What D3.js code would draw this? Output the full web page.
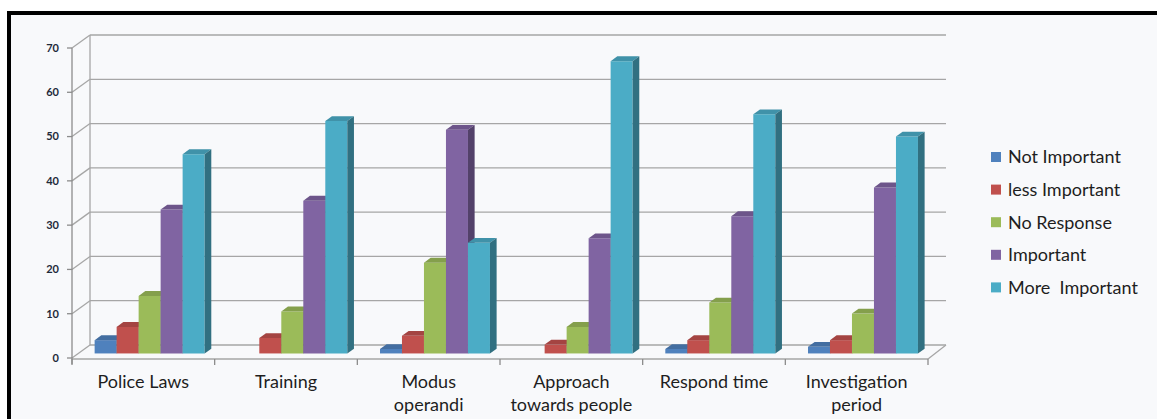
<!DOCTYPE html>
<html>
<head>
<meta charset="utf-8">
<script src="https://cdn.jsdelivr.net/npm/d3@7"></script>
<style>
  html, body { margin: 0; padding: 0; background: #ffffff; }
  svg { display: block; }
  text { font-family: Lato, "Open Sans", sans-serif; }
</style>
</head>
<body>
<svg id="chart" width="1157" height="419"></svg>
<script>
// Survey responses (percent) per policing aspect
const categories = [
  ["Police Laws"],
  ["Training"],
  ["Modus", "operandi"],
  ["Approach", "towards people"],
  ["Respond time"],
  ["Investigation", "period"]
];
const seriesNames = ["Not Important", "less Important", "No Response", "Important", "More  Important"];
const notImportant  = [3, 0, 1, 0, 1, 1.5];
const lessImportant = [6, 3.5, 4, 2, 3, 3];
const noResponse    = [13, 9.5, 20.5, 6, 11.5, 9];
const important     = [32.5, 34.5, 50.5, 26, 31, 37.5];
const moreImportant = [45, 52.5, 25, 66, 54, 49];
const yTicks = [0, 10, 20, 30, 40, 50, 60, 70];

const seriesValues = [notImportant, lessImportant, noResponse, important, moreImportant];
const colors = ["#4f81bd", "#c0504d", "#9bbb59", "#8064a2", "#4bacc6"];

const svg = d3.select("#chart");

// Outer frame
svg.append("rect")
  .attr("x", 9).attr("y", 13)
  .attr("width", 1170).attr("height", 430)
  .attr("fill", "#f8f9fb")
  .attr("stroke", "#000").attr("stroke-width", 4);

// Plot geometry (front plane) and depth vector of the 3D box
const left = 72, right = 928;
const DX = 18, DY = -13;
const y = d3.scaleLinear().domain([0, 70]).range([358, 48]);
const catKeys = categories.map((c, i) => i);
const x0 = d3.scaleBand().domain(catKeys).range([left, right])
  .paddingInner(0.229).paddingOuter(0.1145);
const x1 = d3.scaleBand().domain(d3.range(seriesNames.length)).range([0, x0.bandwidth()]);

const depth0 = 0.35, depth1 = 0.72;
const proj = (px, py, t) => [px + t * DX, py + t * DY];

const grid = svg.append("g").attr("stroke", "#a6a6a6").attr("stroke-width", 1.3).attr("fill", "none");

// Back wall gridlines and left wall diagonals
yTicks.forEach(v => {
  const [bx, by] = proj(left, y(v), 1);
  grid.append("line").attr("x1", bx).attr("y1", by).attr("x2", right + DX).attr("y2", by);
  grid.append("line").attr("x1", left).attr("y1", y(v)).attr("x2", bx).attr("y2", by);
});
// Back wall left edge
grid.append("line")
  .attr("x1", left + DX).attr("y1", y(0) + DY)
  .attr("x2", left + DX).attr("y2", y(70) + DY);
// Floor front and right edges
grid.append("line").attr("x1", left).attr("y1", y(0) + 1).attr("x2", right).attr("y2", y(0) + 1);
grid.append("line").attr("x1", right).attr("y1", y(0) + 1).attr("x2", right + DX).attr("y2", y(0) + DY);

// Front value axis with ticks
const axisG = svg.append("g").attr("stroke", "#8c8c8c").attr("stroke-width", 1.3);
axisG.append("line").attr("x1", left).attr("y1", y(70)).attr("x2", left).attr("y2", y(0) + 6);
yTicks.forEach(v => {
  axisG.append("line").attr("x1", left - 5).attr("y1", y(v)).attr("x2", left).attr("y2", y(v));
});
// Category ticks
d3.range(categories.length + 1).forEach(i => {
  const tx = left + i * x0.step();
  axisG.append("line").attr("x1", tx).attr("y1", y(0) + 1).attr("x2", tx).attr("y2", y(0) + 7);
});

// Y tick labels
svg.append("g").selectAll("text").data(yTicks).join("text")
  .attr("x", 59).attr("y", d => y(d)).attr("dy", "0.35em")
  .attr("text-anchor", "end")
  .attr("font-size", 11).attr("font-weight", "bold").attr("fill", "#1e2a3a")
  .text(d => d);

// 3D bars: front face, top face, right side face
const bars = svg.append("g");
catKeys.forEach(ci => {
  seriesValues.forEach((vals, si) => {
    const v = vals[ci];
    if (!v) return;
    const c = d3.color(colors[si]);
    const xl = x0(ci) + x1(si);
    const xr = xl + x1.bandwidth();
    const yb = y(0), yt = y(v);
    const p = (px, py, t) => proj(px, py, t).join(",");
    const g = bars.append("g");
    // front
    g.append("polygon")
      .attr("points", [p(xl, yb, depth0), p(xr, yb, depth0), p(xr, yt, depth0), p(xl, yt, depth0)].join(" "))
      .attr("fill", c.formatHex());
    // top
    g.append("polygon")
      .attr("points", [p(xl, yt, depth0), p(xr, yt, depth0), p(xr, yt, depth1), p(xl, yt, depth1)].join(" "))
      .attr("fill", c.darker(0.45).formatHex());
    // side
    g.append("polygon")
      .attr("points", [p(xr, yb, depth0), p(xr, yb, depth1), p(xr, yt, depth1), p(xr, yt, depth0)].join(" "))
      .attr("fill", c.darker(1.2).formatHex());
  });
});

// Category labels
const catLabels = svg.append("g");
categories.forEach((lines, ci) => {
  const cx = x0(ci) + x0.bandwidth() / 2;
  const t = catLabels.append("text")
    .attr("x", cx).attr("y", 388)
    .attr("text-anchor", "middle")
    .attr("font-size", 18).attr("fill", "#1e1e1e");
  lines.forEach((ln, li) => {
    t.append("tspan").attr("x", cx).attr("dy", li === 0 ? 0 : 23).text(ln);
  });
});

// Legend
const legend = svg.append("g");
seriesNames.forEach((name, i) => {
  const cy = 157 + i * 32.6;
  legend.append("rect").attr("x", 991).attr("y", cy - 5).attr("width", 10).attr("height", 10)
    .attr("fill", colors[i]);
  legend.append("text").attr("x", 1008).attr("y", cy).attr("dy", "0.35em")
    .attr("font-size", 18).attr("fill", "#1e1e1e")
    .style("white-space", "pre")
    .text(name);
});
</script>
</body>
</html>
